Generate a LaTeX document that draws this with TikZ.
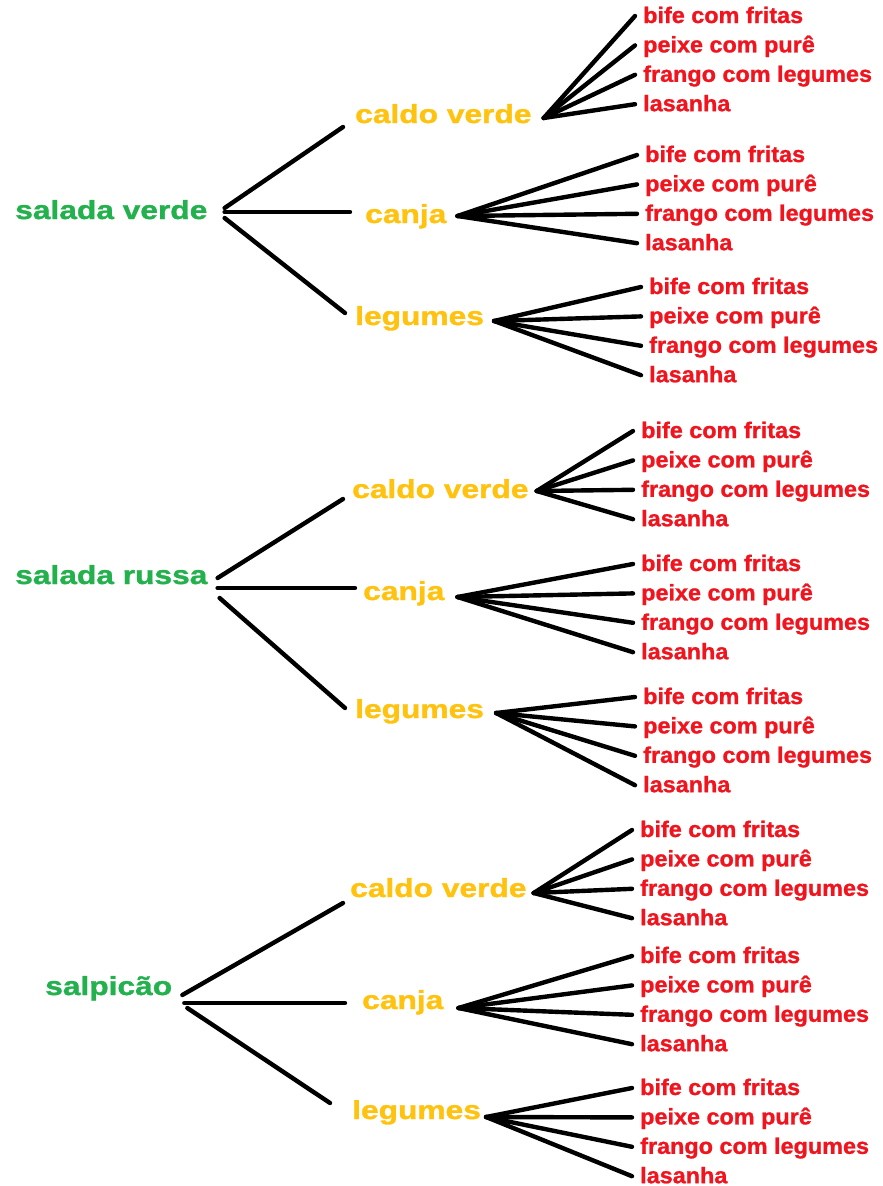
\documentclass[tikz,border=0pt]{standalone}
\usepackage{fontspec}
\setmainfont{Liberation Sans}
\newfontfamily\bigfont[FakeStretch=1.22,FakeBold=1.3]{Liberation Sans}
\newfontfamily\smallfont[FakeStretch=1.04,FakeBold=1.1]{Liberation Sans}
\usetikzlibrary{calc}
\definecolor{tgreen}{HTML}{22B14C}
\definecolor{torange}{HTML}{FFC20E}
\definecolor{tred}{HTML}{F0141E}
\tikzset{
  conn/.style={line width=4.4pt, line cap=round, draw=black},
  starter/.style={anchor=base west, inner sep=0pt, text=tgreen, font=\bigfont\bfseries\fontsize{26}{30}\selectfont},
  soup/.style={anchor=base west, inner sep=0pt, text=torange, font=\bigfont\bfseries\fontsize{26}{30}\selectfont},
  mainc/.style={anchor=base west, inner sep=0pt, text=tred, font=\smallfont\bfseries\fontsize{22.5}{26}\selectfont}
}
\newcommand\mainsfor[5]{%
  \coordinate (#1-hub) at ($(#1.base east)+(#4,#5)$);
  \foreach \t [count=\i] in {bife com fritas, peixe com purê, frango com legumes, lasanha}{
    \node[mainc] (#1-\i) at (#2,{#3+29.4*(\i-1)}) {\t};
    \draw[conn] (#1-hub) -- ($(#1-\i.base west)+(-8,-7)$);
  }}
\begin{document}
\begin{tikzpicture}[x=1pt,y=-1pt]
\useasboundingbox (0,0) rectangle (883,1186);
% block 1
\node[starter] (sv) at (15,219) {salada verde};
\node[soup] (cv1) at (355,123) {caldo verde};
\node[soup] (cj1) at (365,223) {canja};
\node[soup] (lg1) at (355,325) {legumes};
\draw[conn] ($(sv.base east)+(17,-11)$) -- ($(cv1.base west)+(-12,4)$);
\draw[conn] ($(sv.base east)+(17,-7)$) -- ($(cj1.base west)+(-15,-11)$);
\draw[conn] ($(sv.base east)+(17,-1)$) -- ($(lg1.base west)+(-10,-12)$);
\mainsfor{cv1}{643}{23}{12}{-5}
\mainsfor{cj1}{645}{162}{11}{-7}
\mainsfor{lg1}{649}{294}{10}{-4}
% block 2
\node[starter] (sr) at (15,584) {salada russa};
\node[soup] (cv2) at (352,498) {caldo verde};
\node[soup] (cj2) at (363,600) {canja};
\node[soup] (lg2) at (355,718) {legumes};
\draw[conn] ($(sr.base east)+(10,-6)$) -- ($(cv2.base west)+(-9,1)$);
\draw[conn] ($(sr.base east)+(10,4)$) -- ($(cj2.base west)+(-8,-12)$);
\draw[conn] ($(sr.base east)+(12,14)$) -- ($(lg2.base west)+(-10,-10)$);
\mainsfor{cv2}{641}{438}{8}{-7}
\mainsfor{cj2}{641}{571}{13}{-3}
\mainsfor{lg2}{643}{704}{12}{-5}
% block 3
\node[starter] (sp) at (45,995) {salpicão};
\node[soup] (cv3) at (350,897) {caldo verde};
\node[soup] (cj3) at (362,1009) {canja};
\node[soup] (lg3) at (352,1119) {legumes};
\draw[conn] ($(sp.base east)+(10,0)$) -- ($(cv3.base west)+(-7,6)$);
\draw[conn] ($(sp.base east)+(12,8)$) -- ($(cj3.base west)+(-17,-6)$);
\draw[conn] ($(sp.base east)+(15,13)$) -- ($(lg3.base west)+(-22,-16)$);
\mainsfor{cv3}{640}{837}{7}{-4}
\mainsfor{cj3}{640}{963}{15}{-1}
\mainsfor{lg3}{640}{1095}{5}{-2}
\end{tikzpicture}
\end{document}
